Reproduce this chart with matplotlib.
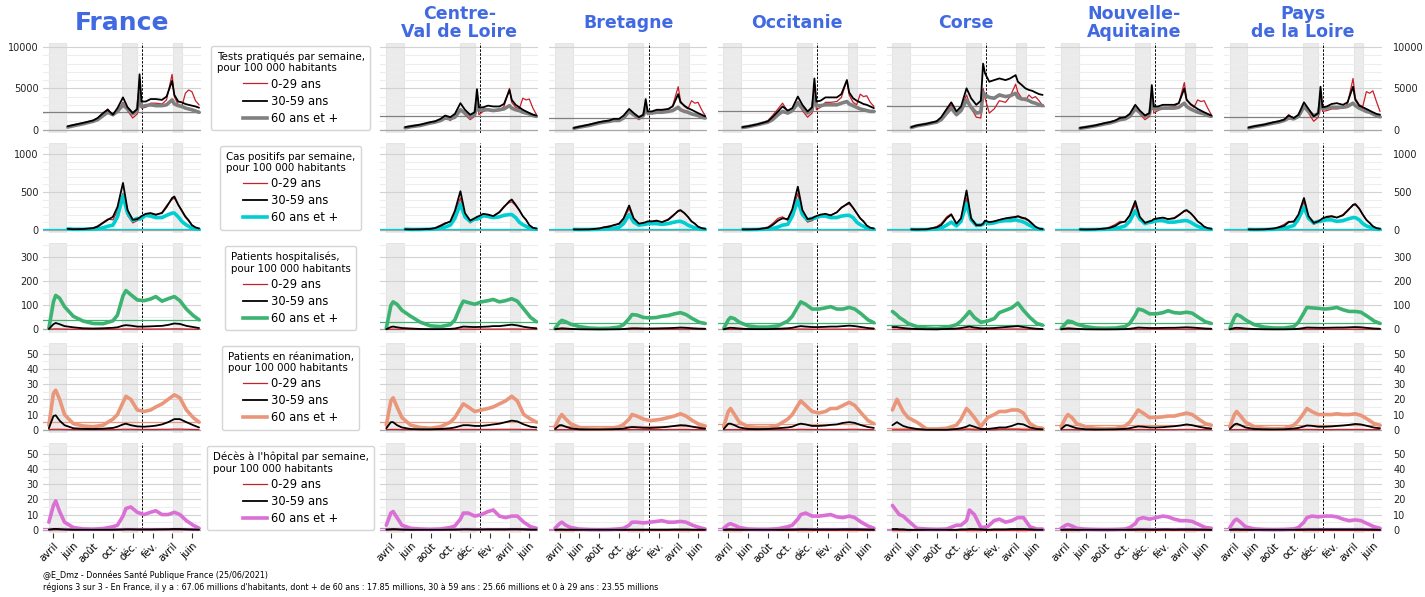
import matplotlib
matplotlib.use("Agg")
import matplotlib.pyplot as plt
import pandas as pd
from matplotlib.lines import Line2D
from matplotlib.ticker import MultipleLocator

# --- dates ---------------------------------------------------------------
dates_tests = pd.to_datetime([
    "2020-05-15", "2020-06-01", "2020-07-01", "2020-08-01", "2020-08-15",
    "2020-09-01", "2020-09-15", "2020-10-01", "2020-10-15", "2020-11-01",
    "2020-11-15", "2020-12-01", "2020-12-15", "2020-12-22", "2020-12-28",
    "2021-01-10", "2021-01-25", "2021-02-10", "2021-03-01", "2021-03-15",
    "2021-04-01", "2021-04-08", "2021-04-20", "2021-05-01", "2021-05-12",
    "2021-05-22", "2021-06-01", "2021-06-12", "2021-06-23"])
dates_hosp = pd.to_datetime([
    "2020-03-18", "2020-04-01", "2020-04-08", "2020-04-20", "2020-05-05",
    "2020-06-01", "2020-07-01", "2020-08-01", "2020-09-01", "2020-10-01",
    "2020-10-15", "2020-11-01", "2020-11-10", "2020-11-25", "2020-12-15",
    "2021-01-05", "2021-01-25", "2021-02-10", "2021-03-01", "2021-03-20",
    "2021-04-08", "2021-04-25", "2021-05-15", "2021-06-05", "2021-06-23"])

confinements = [("2020-03-17", "2020-05-11"), ("2020-10-30", "2020-12-15"),
                ("2021-04-03", "2021-05-03")]
date_vaccin = "2020-12-31"
mois_ticks = ["2020-04-01", "2020-06-01", "2020-08-01", "2020-10-01",
              "2020-12-01", "2021-02-01", "2021-04-01", "2021-06-01"]
mois_labels = ["avril", "juin", "août", "oct.", "déc.", "fév.", "avril", "juin"]

# --- France --------------------------------------------------------------
fra_tests_0_29 = [300, 450, 700, 1100, 1400, 2000, 2500, 1700, 2300, 3300,
                  2300, 1400, 1900, 6200, 2600, 2700, 3200, 3200, 3100, 3600,
                  6700, 4000, 3000, 2800, 4400, 4800, 4600, 3500, 3000]
fra_tests_30_59 = [400, 550, 800, 1100, 1400, 2000, 2400, 1800, 2600, 3900,
                   2700, 2000, 2500, 6700, 3400, 3400, 3700, 3700, 3600, 4000,
                   5900, 4200, 3400, 3300, 3100, 3000, 2900, 2800, 2650]
fra_tests_60 = [300, 450, 700, 1000, 1200, 1700, 2100, 1800, 2200, 3000,
                2500, 1900, 2300, 4400, 2800, 2900, 3000, 2900, 2900, 3000,
                3600, 3100, 2900, 2800, 2600, 2500, 2400, 2250, 2100]
fra_cas_0_29 = [8, 5, 8, 25, 50, 100, 140, 130, 250, 480,
                190, 90, 120, 140, 150, 190, 210, 190, 230, 320,
                400, 420, 330, 260, 180, 130, 60, 30, 15]
fra_cas_30_59 = [10, 6, 8, 20, 40, 90, 130, 170, 300, 620,
                 260, 130, 140, 160, 180, 210, 220, 200, 220, 300,
                 420, 440, 330, 250, 170, 120, 60, 30, 15]
fra_cas_60 = [10, 5, 5, 8, 12, 25, 45, 60, 170, 450,
              220, 120, 150, 140, 150, 190, 180, 160, 160, 190,
              220, 220, 170, 110, 70, 45, 20, 10, 6]
fra_hosp_0_29 = [0.5, 2, 2.5, 2, 1.5, 1, 0.8, 0.8, 0.8, 1,
                 1.2, 2, 2.3, 2.1, 1.7, 1.6, 1.7, 1.9, 2, 2.2,
                 2.6, 2.4, 1.8, 1.3, 1]
fra_hosp_30_59 = [2, 22, 27, 22, 14, 9, 5, 4, 5, 7,
                  9, 16, 18, 16, 12, 12, 13, 14, 15, 19,
                  25, 23, 15, 10, 6]
fra_hosp_60 = [5, 115, 142, 130, 95, 55, 35, 25, 24, 36,
               60, 140, 162, 145, 123, 120, 127, 137, 118, 128,
               137, 120, 85, 58, 40]
fra_rea_0_29 = [0.1, 0.3, 0.3, 0.3, 0.2, 0.1, 0.1, 0.1, 0.1, 0.1,
                0.2, 0.3, 0.3, 0.3, 0.2, 0.2, 0.2, 0.2, 0.3, 0.3,
                0.4, 0.4, 0.3, 0.2, 0.1]
fra_rea_30_59 = [1, 9, 9.5, 6, 3, 1, 0.6, 0.5, 0.7, 1.2,
                 2, 3.5, 4, 3, 2.2, 2, 2.3, 2.7, 3.5, 5,
                 7, 7, 5, 3, 1.5]
fra_rea_60 = [3, 24, 26, 20, 10, 4, 2.5, 2, 3, 7,
              10, 18, 22, 20, 13, 12, 13, 15, 17, 20,
              23, 21, 13, 8, 5]
fra_dc_0_29 = [0, 0.02, 0.03, 0.02, 0.01, 0, 0, 0, 0, 0,
               0, 0.01, 0.02, 0.02, 0.01, 0.01, 0.01, 0.01, 0.01, 0.01,
               0.02, 0.02, 0.01, 0.01, 0]
fra_dc_30_59 = [0.1, 0.5, 0.6, 0.4, 0.2, 0.05, 0.03, 0.02, 0.03, 0.05,
                0.1, 0.2, 0.3, 0.3, 0.2, 0.2, 0.2, 0.25, 0.3, 0.35,
                0.5, 0.45, 0.3, 0.15, 0.08]
fra_dc_60 = [5, 16, 19, 12, 5, 1.5, 0.6, 0.4, 0.8, 2,
             3, 9, 14, 15, 11.5, 10, 11.5, 12.5, 10, 10,
             11.5, 10, 6, 3, 1]

# --- Centre-Val de Loire -------------------------------------------------
cvl_tests_0_29 = [200, 350, 500, 800, 900, 1100, 1500, 1100, 1600, 2500,
                  1800, 1200, 1600, 4000, 1800, 2200, 2400, 2300, 2300, 2800,
                  5000, 3300, 2700, 2500, 3800, 3600, 3700, 2600, 1800]
cvl_tests_30_59 = [300, 400, 600, 900, 1000, 1300, 1700, 1500, 1900, 3200,
                   2400, 1800, 2100, 4900, 2700, 2700, 2900, 2800, 2800, 3100,
                   4800, 3600, 3000, 2700, 2400, 2200, 2000, 1800, 1700]
cvl_tests_60 = [200, 350, 500, 800, 900, 1100, 1400, 1300, 1500, 2400,
                2000, 1500, 1800, 3300, 2300, 2400, 2400, 2300, 2400, 2500,
                2900, 2600, 2400, 2300, 2100, 2000, 1900, 1700, 1600]
cvl_cas_0_29 = [5, 3, 5, 12, 25, 60, 90, 100, 220, 420,
                170, 90, 130, 150, 160, 200, 195, 180, 240, 310,
                360, 370, 320, 260, 180, 130, 60, 25, 15]
cvl_cas_30_59 = [5, 3, 5, 10, 20, 50, 80, 110, 250, 510,
                 220, 120, 150, 170, 180, 210, 200, 180, 230, 300,
                 380, 400, 330, 260, 180, 130, 60, 25, 15]
cvl_cas_60 = [5, 3, 3, 6, 10, 20, 35, 60, 150, 340,
              170, 110, 140, 140, 150, 185, 175, 160, 170, 190,
              200, 200, 160, 100, 65, 45, 20, 8, 6]
cvl_hosp_0_29 = [0.3, 1, 1.2, 1, 0.8, 0.5, 0.4, 0.3, 0.4, 0.5,
                 0.7, 1.2, 1.5, 1.4, 1.2, 1.3, 1.4, 1.5, 1.6, 1.8,
                 2, 1.8, 1.3, 0.9, 0.6]
cvl_hosp_30_59 = [1, 10, 12, 9, 6, 4, 2, 1.5, 1.5, 2.5,
                  4, 9, 12, 11, 10, 11, 12, 14, 14, 17,
                  20, 17, 11, 7, 5]
cvl_hosp_60 = [5, 100, 115, 105, 80, 55, 30, 15, 12, 20,
               40, 95, 118, 112, 105, 115, 120, 125, 115, 120,
               128, 118, 85, 50, 32]
cvl_rea_0_29 = [0.1, 0.2, 0.2, 0.2, 0.1, 0.1, 0.1, 0.1, 0.1, 0.1,
                0.1, 0.2, 0.2, 0.2, 0.2, 0.2, 0.2, 0.2, 0.3, 0.3,
                0.3, 0.3, 0.2, 0.2, 0.1]
cvl_rea_30_59 = [1, 5, 5, 3, 1.5, 0.5, 0.3, 0.3, 0.5, 1,
                 1.5, 2.5, 3, 3, 2.5, 2.5, 3, 3.5, 4, 5,
                 6, 5.5, 3.5, 2, 1.5]
cvl_rea_60 = [3, 19, 21, 15, 8, 3, 1.5, 1, 2, 5,
              8, 14, 17, 15, 12, 13, 14, 15, 17, 19,
              22, 19, 10, 7, 5]
cvl_dc_0_29 = [0, 0, 0, 0, 0, 0, 0, 0, 0, 0,
               0, 0, 0.1, 0, 0, 0, 0, 0, 0, 0,
               0, 0, 0, 0, 0]
cvl_dc_30_59 = [0.1, 0.3, 0.4, 0.3, 0.1, 0, 0, 0, 0, 0.1,
                0.1, 0.2, 0.3, 0.3, 0.2, 0.2, 0.3, 0.3, 0.3, 0.3,
                0.4, 0.4, 0.3, 0.1, 0.1]
cvl_dc_60 = [3, 11, 12, 8, 3, 1, 0.5, 0.3, 0.5, 1.5,
             2.5, 7, 11, 11, 9, 10, 12, 13, 9, 8,
             9, 9, 5, 2, 1]

# --- Bretagne ------------------------------------------------------------
bre_tests_0_29 = [150, 300, 550, 850, 950, 1000, 1200, 1100, 1500, 2300,
                  1700, 1200, 1600, 3200, 1800, 2000, 2300, 2300, 2400, 2900,
                  5200, 3500, 2800, 2500, 3500, 3200, 3300, 2400, 1700]
bre_tests_30_59 = [200, 350, 600, 900, 1000, 1100, 1300, 1300, 1700, 2500,
                   2000, 1500, 1800, 3700, 2200, 2200, 2400, 2400, 2500, 2800,
                   4300, 3300, 2900, 2600, 2400, 2200, 2000, 1800, 1600]
bre_tests_60 = [150, 300, 500, 800, 900, 1000, 1100, 1100, 1400, 2200,
                1800, 1400, 1700, 2700, 2000, 2000, 2100, 2100, 2200, 2300,
                2700, 2400, 2200, 2100, 1900, 1800, 1700, 1500, 1400]
bre_cas_0_29 = [3, 2, 5, 20, 35, 50, 60, 70, 130, 280,
                120, 60, 80, 90, 100, 110, 110, 100, 140, 190,
                240, 250, 220, 170, 110, 80, 40, 20, 12]
bre_cas_30_59 = [3, 2, 4, 15, 30, 40, 60, 80, 150, 320,
                 150, 80, 90, 100, 110, 110, 120, 100, 130, 180,
                 250, 260, 220, 170, 110, 80, 40, 20, 12]
bre_cas_60 = [3, 2, 2, 5, 8, 12, 20, 30, 80, 200,
              100, 60, 70, 70, 80, 80, 80, 70, 80, 95,
              110, 110, 90, 60, 40, 25, 12, 6, 4]
bre_hosp_0_29 = [0.2, 0.5, 0.6, 0.5, 0.4, 0.3, 0.2, 0.2, 0.3, 0.4,
                 0.5, 0.8, 1, 1, 0.9, 0.9, 1, 1, 1.1, 1.2,
                 1.4, 1.3, 1, 0.7, 0.5]
bre_hosp_30_59 = [1, 4, 5, 4, 2.5, 1, 0.6, 0.5, 0.6, 1,
                  2, 4, 5, 5, 4, 4, 4.5, 5, 5.5, 6.5,
                  8, 7, 5, 3.5, 3]
bre_hosp_60 = [4, 30, 38, 32, 22, 12, 6, 4, 5, 10,
               20, 45, 62, 60, 50, 48, 50, 55, 58, 65,
               70, 62, 45, 30, 25]
bre_rea_0_29 = [0, 0.1, 0.1, 0.1, 0.1, 0, 0, 0, 0, 0.1,
                0.1, 0.1, 0.2, 0.2, 0.1, 0.1, 0.1, 0.1, 0.2, 0.2,
                0.2, 0.2, 0.1, 0.1, 0.1]
bre_rea_30_59 = [0.5, 3, 3, 2, 1, 0.3, 0.2, 0.2, 0.3, 0.5,
                 0.8, 1.5, 1.8, 1.6, 1.3, 1.2, 1.4, 1.6, 2, 2.5,
                 3, 2.8, 2, 1.2, 0.8]
bre_rea_60 = [2, 8, 10, 7, 4, 1.5, 0.5, 0.4, 0.6, 2,
              3.5, 7, 10, 9, 7, 6, 6.5, 7, 8, 9,
              10.5, 9, 6, 3.5, 2.5]
bre_dc_0_29 = [0, 0, 0, 0, 0, 0, 0, 0, 0, 0,
               0, 0, 0, 0, 0, 0, 0, 0, 0, 0,
               0, 0, 0, 0, 0]
bre_dc_30_59 = [0, 0.2, 0.2, 0.1, 0.1, 0, 0, 0, 0, 0,
                0, 0.1, 0.1, 0.1, 0.1, 0.1, 0.1, 0.1, 0.1, 0.2,
                0.2, 0.2, 0.1, 0.1, 0]
bre_dc_60 = [1, 4, 5, 3, 1.5, 0.5, 0.2, 0.1, 0.2, 0.6,
             1, 3, 5, 5, 4.5, 5, 5.5, 6, 5, 5,
             5.5, 5, 3, 1.5, 0.5]

# --- Occitanie -----------------------------------------------------------
occ_tests_0_29 = [250, 350, 650, 1100, 1700, 2500, 3200, 2200, 2400, 3400,
                  2300, 1500, 2000, 5500, 2400, 2700, 3300, 3300, 3400, 3900,
                  6000, 4200, 3300, 3000, 4300, 4000, 4100, 3300, 2800]
occ_tests_30_59 = [300, 400, 650, 1000, 1500, 2200, 2800, 2300, 2600, 4000,
                   3000, 2200, 2700, 6200, 3400, 3500, 3900, 3900, 3900, 4300,
                   6000, 4500, 3800, 3500, 3300, 3100, 3000, 2800, 2600]
occ_tests_60 = [250, 350, 600, 900, 1200, 1800, 2200, 2000, 2300, 3200,
                2600, 2000, 2400, 4000, 2900, 2900, 3000, 3000, 3000, 3200,
                3400, 3100, 2900, 2700, 2500, 2400, 2300, 2200, 2200]
occ_cas_0_29 = [3, 3, 8, 35, 80, 150, 170, 120, 240, 480,
                190, 100, 120, 140, 160, 190, 200, 190, 230, 300,
                330, 340, 290, 220, 150, 110, 55, 25, 15]
occ_cas_30_59 = [3, 3, 6, 25, 60, 120, 150, 140, 270, 570,
                 260, 140, 150, 170, 180, 200, 210, 190, 230, 290,
                 340, 360, 290, 220, 150, 110, 55, 25, 15]
occ_cas_60 = [3, 2, 3, 8, 15, 35, 60, 70, 180, 390,
              200, 130, 150, 150, 160, 180, 180, 160, 160, 180,
              190, 190, 160, 100, 65, 45, 20, 9, 6]
occ_hosp_0_29 = [0.2, 0.6, 0.7, 0.6, 0.4, 0.3, 0.3, 0.4, 0.6, 0.8,
                 1, 1.5, 1.7, 1.5, 1.2, 1.2, 1.3, 1.4, 1.4, 1.5,
                 1.7, 1.6, 1.2, 0.8, 0.6]
occ_hosp_30_59 = [1, 6, 7, 6, 4, 2, 1.5, 1.5, 3, 5,
                  7, 12, 14, 12, 10, 10, 11, 12, 12, 14,
                  16, 14, 10, 6, 4]
occ_hosp_60 = [4, 40, 50, 45, 30, 15, 10, 10, 15, 35,
               55, 95, 115, 105, 85, 85, 90, 95, 85, 85,
               92, 85, 65, 40, 28]
occ_rea_0_29 = [0, 0.1, 0.1, 0.1, 0.1, 0, 0, 0.1, 0.1, 0.1,
                0.2, 0.2, 0.3, 0.2, 0.2, 0.2, 0.2, 0.2, 0.2, 0.2,
                0.3, 0.3, 0.2, 0.1, 0.1]
occ_rea_30_59 = [0.5, 4, 4, 3, 1.5, 0.5, 0.4, 0.5, 1, 1.5,
                 2, 3.5, 4, 3.5, 2.5, 2.5, 2.8, 3.2, 3.5, 4.5,
                 5, 4.5, 3, 1.8, 1.2]
occ_rea_60 = [2, 12, 14, 10, 5, 2, 1.5, 1.5, 3, 7,
              10, 16, 19, 16, 12, 11, 12, 14, 14, 16,
              18, 16, 11, 6, 4]
occ_dc_0_29 = [0, 0, 0, 0, 0, 0, 0, 0, 0, 0,
               0, 0, 0, 0, 0, 0, 0, 0, 0, 0,
               0, 0, 0, 0, 0]
occ_dc_30_59 = [0, 0.2, 0.2, 0.1, 0.1, 0, 0, 0, 0, 0.1,
                0.1, 0.2, 0.3, 0.3, 0.2, 0.2, 0.2, 0.2, 0.2, 0.3,
                0.3, 0.3, 0.2, 0.1, 0.1]
occ_dc_60 = [1, 3.5, 4, 3, 1.5, 0.5, 0.3, 0.3, 0.7, 2,
             3, 7, 10, 11, 9, 9, 9.5, 10, 8.5, 8,
             9, 8, 5, 2.5, 1]

# --- Corse ---------------------------------------------------------------
cor_tests_0_29 = [250, 450, 700, 1000, 1400, 2300, 3000, 1800, 2500, 4200,
                  2600, 1500, 1400, 5000, 3800, 2000, 2500, 3500, 3300, 4000,
                  5500, 4500, 3800, 3500, 4200, 3800, 4000, 3500, 2900]
cor_tests_30_59 = [300, 500, 700, 1000, 1500, 2500, 3300, 2200, 2800, 5000,
                   3800, 3000, 3500, 8000, 6800, 5800, 6000, 6200, 6000, 6200,
                   6600, 5800, 5400, 5000, 4800, 4700, 4500, 4300, 4200]
cor_tests_60 = [250, 450, 650, 900, 1200, 2000, 2600, 1800, 2300, 3600,
                2700, 2000, 2100, 4500, 4200, 3900, 3800, 4200, 4000, 4100,
                4400, 3900, 3700, 3700, 3500, 3300, 3200, 3000, 2900]
cor_cas_0_29 = [3, 2, 6, 40, 80, 170, 210, 70, 120, 420,
                120, 40, 50, 70, 100, 90, 110, 130, 150, 150,
                160, 170, 150, 140, 110, 70, 35, 12, 6]
cor_cas_30_59 = [3, 2, 5, 30, 60, 150, 200, 80, 150, 520,
                 150, 60, 60, 80, 120, 100, 110, 130, 150, 160,
                 170, 180, 160, 150, 120, 80, 40, 15, 8]
cor_cas_60 = [3, 1, 2, 10, 20, 60, 100, 50, 110, 350,
              130, 60, 60, 70, 100, 80, 90, 110, 120, 120,
              130, 120, 110, 90, 60, 40, 20, 6, 3]
cor_hosp_0_29 = [1, 1, 1, 0.5, 0.5, 0, 0, 0, 0.5, 0.5,
                 1, 1, 1.5, 1, 0.5, 0.5, 1, 1.5, 1.5, 2,
                 2, 1.5, 1, 0.5, 0.5]
cor_hosp_30_59 = [10, 10, 8, 6, 4, 2, 1, 1, 2, 4,
                  6, 10, 12, 8, 5, 5, 6, 8, 10, 12,
                  14, 10, 6, 3, 2]
cor_hosp_60 = [75, 60, 50, 40, 25, 12, 6, 4, 8, 20,
               35, 60, 75, 50, 30, 35, 45, 70, 80, 90,
               110, 80, 50, 25, 18]
cor_rea_0_29 = [0, 0, 0, 0, 0, 0, 0, 0, 0, 0,
                0, 0.3, 0.3, 0, 0, 0, 0, 0.3, 0.3, 0.3,
                0.3, 0, 0, 0, 0]
cor_rea_30_59 = [3, 5, 4, 2.5, 1.5, 0.5, 0, 0, 0, 0.5,
                 1, 2, 3, 2, 0.5, 0.5, 1, 1.5, 1.5, 2.5,
                 4, 3.5, 1.5, 0.5, 0.3]
cor_rea_60 = [13, 20, 17, 12, 8, 5, 0.5, 0.5, 1, 3,
              7, 14, 12, 8, 2, 8, 10, 12, 12, 13,
              13, 11, 4, 1.5, 1]
cor_dc_0_29 = [0, 0, 0, 0, 0, 0, 0, 0, 0, 0,
               0, 0, 0, 0, 0, 0, 0, 0, 0, 0,
               0, 0, 0, 0, 0]
cor_dc_30_59 = [0.5, 0.5, 0.3, 0.3, 0, 0, 0, 0, 0, 0,
                0.3, 0.3, 0.5, 0.5, 0.3, 0, 0.3, 0.3, 0.3, 0.5,
                0.5, 0.5, 0.3, 0, 0]
cor_dc_60 = [16, 12, 10, 9, 6, 1, 0.5, 0.3, 0.5, 3,
             3, 6, 13, 10, 1.5, 2, 6, 7, 5, 6,
             8, 8, 2, 0.5, 0.5]

# --- Nouvelle-Aquitaine --------------------------------------------------
naq_tests_0_29 = [150, 250, 450, 800, 900, 1100, 1500, 1300, 1800, 2700,
                  1900, 1200, 1600, 4600, 2000, 2300, 2700, 2700, 2800, 3200,
                  5700, 3700, 3000, 2700, 3600, 3400, 3500, 2600, 1800]
naq_tests_30_59 = [200, 300, 500, 800, 900, 1100, 1400, 1500, 1900, 3000,
                   2300, 1700, 2000, 5400, 2800, 2800, 3000, 3000, 3000, 3200,
                   5000, 3600, 3100, 2800, 2500, 2300, 2100, 1900, 1700]
naq_tests_60 = [150, 250, 450, 700, 800, 1000, 1200, 1300, 1600, 2500,
                2100, 1600, 1900, 3500, 2500, 2500, 2600, 2600, 2600, 2700,
                3200, 2800, 2500, 2300, 2100, 2000, 1900, 1700, 1600]
naq_cas_0_29 = [3, 2, 5, 20, 35, 70, 110, 100, 180, 330,
                140, 70, 100, 110, 130, 150, 160, 140, 160, 200,
                240, 250, 220, 170, 110, 80, 40, 20, 12]
naq_cas_30_59 = [3, 2, 4, 15, 25, 50, 90, 110, 190, 380,
                 170, 90, 110, 120, 140, 150, 160, 140, 150, 190,
                 250, 260, 220, 170, 110, 80, 40, 20, 12]
naq_cas_60 = [3, 1, 2, 5, 8, 15, 30, 50, 110, 250,
              140, 80, 100, 100, 110, 120, 120, 100, 100, 110,
              120, 120, 100, 70, 45, 30, 15, 6, 4]
naq_hosp_0_29 = [0.2, 0.5, 0.6, 0.5, 0.4, 0.3, 0.2, 0.2, 0.3, 0.4,
                 0.6, 0.9, 1.1, 1, 0.9, 0.9, 1, 1, 1, 1.1,
                 1.2, 1.1, 0.9, 0.6, 0.5]
naq_hosp_30_59 = [1, 4, 5, 4, 2.5, 1, 0.6, 0.5, 0.7, 1.5,
                  3, 6, 8, 7, 6, 6, 6.5, 7, 7, 8,
                  9, 8, 6, 4, 3]
naq_hosp_60 = [4, 25, 35, 32, 22, 12, 6, 5, 6, 12,
               25, 60, 85, 80, 65, 65, 70, 78, 70, 68,
               72, 68, 50, 32, 25]
naq_rea_0_29 = [0, 0.1, 0.1, 0.1, 0, 0, 0, 0, 0, 0.1,
                0.1, 0.1, 0.2, 0.2, 0.1, 0.1, 0.1, 0.1, 0.1, 0.2,
                0.2, 0.2, 0.1, 0.1, 0.1]
naq_rea_30_59 = [0.5, 3, 3, 2, 1, 0.3, 0.2, 0.2, 0.3, 0.6,
                 1, 1.8, 2.2, 2, 1.5, 1.5, 1.7, 2, 2.3, 2.8,
                 3.5, 3, 2, 1.2, 0.8]
naq_rea_60 = [2, 8, 10, 8, 4, 2, 1, 0.6, 0.8, 2.5,
              5, 10, 13, 11, 8, 8, 8.5, 9, 9, 10,
              11, 10, 7, 4, 3]
naq_dc_0_29 = [0, 0, 0, 0, 0, 0, 0, 0, 0, 0,
               0, 0, 0, 0, 0, 0, 0, 0, 0, 0,
               0, 0, 0, 0, 0]
naq_dc_30_59 = [0, 0.1, 0.1, 0.1, 0, 0, 0, 0, 0, 0,
                0.1, 0.1, 0.2, 0.2, 0.1, 0.1, 0.2, 0.2, 0.1, 0.2,
                0.2, 0.2, 0.1, 0.1, 0]
naq_dc_60 = [1, 3, 3.5, 2.5, 1, 0.4, 0.2, 0.1, 0.2, 0.5,
             1.5, 4, 7, 8, 7, 8, 9, 8.5, 7, 6,
             6, 5.5, 3.5, 1.5, 1]

# --- Pays de la Loire ----------------------------------------------------
pdl_tests_0_29 = [200, 350, 550, 900, 1000, 1200, 1800, 1300, 1500, 2800,
                  2000, 1000, 1500, 4500, 2200, 2300, 2500, 2500, 2600, 3100,
                  6200, 3800, 3000, 2800, 4600, 4400, 4700, 3400, 2200]
pdl_tests_30_59 = [250, 400, 600, 900, 1000, 1200, 1700, 1400, 1800, 3300,
                   2500, 1600, 2000, 5200, 2700, 2800, 3100, 3200, 3000, 3300,
                   5200, 3600, 2900, 2700, 2500, 2300, 2100, 1900, 1800]
pdl_tests_60 = [200, 350, 550, 800, 900, 1100, 1400, 1300, 1600, 2800,
                2200, 1700, 1900, 3300, 2600, 2600, 2700, 2700, 2700, 2800,
                3200, 2900, 2600, 2400, 2200, 2100, 1900, 1700, 1550]
pdl_cas_0_29 = [3, 2, 5, 20, 35, 70, 110, 100, 180, 370,
                150, 70, 100, 120, 140, 160, 170, 160, 200, 260,
                320, 330, 280, 200, 130, 90, 45, 20, 12]
pdl_cas_30_59 = [3, 2, 4, 15, 30, 50, 100, 110, 200, 420,
                 180, 90, 110, 130, 150, 170, 180, 160, 190, 250,
                 330, 340, 280, 200, 130, 90, 45, 20, 12]
pdl_cas_60 = [3, 1, 2, 5, 10, 18, 35, 55, 140, 300,
              150, 90, 110, 110, 120, 130, 130, 110, 120, 140,
              160, 160, 130, 80, 50, 35, 15, 6, 4]
pdl_hosp_0_29 = [0.2, 0.7, 0.8, 0.7, 0.5, 0.3, 0.2, 0.2, 0.3, 0.4,
                 0.6, 1, 1.2, 1.2, 1.1, 1.1, 1.2, 1.2, 1.2, 1.3,
                 1.4, 1.3, 1, 0.7, 0.5]
pdl_hosp_30_59 = [1, 6, 7, 6, 4, 2, 1, 0.6, 0.7, 1.5,
                  3, 6, 8, 7.5, 7, 7, 7.5, 8, 8, 9,
                  10, 9, 6.5, 4, 3]
pdl_hosp_60 = [4, 50, 62, 55, 40, 20, 10, 6, 6, 12,
               30, 70, 92, 90, 88, 85, 88, 92, 82, 75,
               75, 72, 55, 35, 25]
pdl_rea_0_29 = [0, 0.1, 0.1, 0.1, 0.1, 0, 0, 0, 0, 0.1,
                0.1, 0.2, 0.2, 0.2, 0.1, 0.1, 0.1, 0.2, 0.2, 0.2,
                0.2, 0.2, 0.1, 0.1, 0.1]
pdl_rea_30_59 = [0.5, 3.5, 4, 3, 1.5, 0.5, 0.3, 0.2, 0.3, 0.8,
                 1.2, 2.2, 2.8, 2.6, 2, 2, 2.2, 2.5, 2.8, 3.2,
                 3.8, 3.5, 2.5, 1.4, 1]
pdl_rea_60 = [2, 10, 12, 9, 5, 2, 1, 0.6, 0.8, 3,
              6, 11, 14, 12, 10, 10, 10, 10.5, 10, 10,
              10.5, 9.5, 7, 4, 3]
pdl_dc_0_29 = [0, 0, 0, 0, 0, 0, 0, 0, 0, 0,
               0, 0, 0, 0, 0, 0, 0, 0, 0, 0,
               0, 0, 0, 0, 0]
pdl_dc_30_59 = [0, 0.2, 0.2, 0.1, 0.1, 0, 0, 0, 0, 0,
                0.1, 0.1, 0.2, 0.2, 0.2, 0.2, 0.2, 0.2, 0.2, 0.2,
                0.2, 0.2, 0.1, 0.1, 0]
pdl_dc_60 = [1.5, 6, 7, 5, 2, 0.6, 0.2, 0.1, 0.2, 0.6,
             1.5, 5, 8, 9, 8.5, 9, 9, 8.5, 7, 6,
             6.5, 6, 4, 2, 1]

# --- layout / style ------------------------------------------------------
colonnes = ["fra", None, "cvl", "bre", "occ", "cor", "naq", "pdl"]
titres = ["France", "", "Centre-\nVal de Loire", "Bretagne", "Occitanie",
          "Corse", "Nouvelle-\nAquitaine", "Pays\nde la Loire"]
ages = ["0_29", "30_59", "60"]
age_labels = ["0-29 ans", "30-59 ans", "60 ans et +"]

# metric, 60+ colour, ylim, major, minor, legend title
lignes = [
    ("tests", "grey", (-420, 10500), 5000, 1000,
     "Tests pratiqués par semaine,\npour 100 000 habitants"),
    ("cas", "darkturquoise", (-45, 1150), 500, 100,
     "Cas positifs par semaine,\npour 100 000 habitants"),
    ("hosp", "mediumseagreen", (-15, 360), 100, 50,
     "Patients hospitalisés,\npour 100 000 habitants"),
    ("rea", "darksalmon", (-2.2, 57), 10, 5,
     "Patients en réanimation,\npour 100 000 habitants"),
    ("dc", "orchid", (-2.2, 57), 10, 5,
     "Décès à l'hôpital par semaine,\npour 100 000 habitants"),
]
ROUGE = "#c8202a"
BLEU_TITRE = "royalblue"


def serie(code, metric, age):
    return globals()[f"{code}_{metric}_{age}"]


fig, axes = plt.subplots(5, 8, figsize=(14.25, 5.97), dpi=100,
                         gridspec_kw=dict(left=0.0302, right=0.9698,
                                          top=0.928, bottom=0.107,
                                          wspace=0.068, hspace=0.111))

xlim = pd.to_datetime(["2020-02-29", "2021-06-29"])

for r, (metric, col60, ylim, major, minor, leg_title) in enumerate(lignes):
    widths = [0.9, 1.3, 2.6]
    colors = [ROUGE, "black", col60]
    for c, code in enumerate(colonnes):
        ax = axes[r, c]
        if code is None:
            ax.axis("off")
            handles = [Line2D([], [], color=colors[i], lw=widths[i])
                       for i in range(3)]
            ax.legend(handles, age_labels, title=leg_title, loc="center",
                      fontsize=8.3, title_fontsize=7.4,
                      handlelength=2.1, handletextpad=0.3,
                      labelspacing=0.35, borderpad=0.5,
                      framealpha=1, edgecolor="#d5d5d5")
            continue

        dates = dates_tests if metric in ("tests", "cas") else dates_hosp
        for a0, d0 in confinements:
            ax.axvspan(pd.Timestamp(a0), pd.Timestamp(d0), color="lightgray",
                       alpha=0.45, lw=0.8, zorder=0)
        ax.axvline(pd.Timestamp(date_vaccin), color="black", lw=0.7,
                   ls=(0, (2.5, 1.5)), zorder=1)
        ax.axhline(0, color="#a8a8a8", lw=0.9, zorder=1)

        vals = [serie(code, metric, a) for a in ages]
        ax.axhline(vals[2][-1], color=col60, lw=0.9, zorder=1.5)
        for i in range(3):
            ax.plot(dates, vals[i], color=colors[i], lw=widths[i],
                    zorder=2 + i if i < 2 else 2.5, solid_capstyle="round")

        ax.set_xlim(xlim)
        ax.set_ylim(ylim)
        ax.yaxis.set_major_locator(MultipleLocator(major))
        ax.yaxis.set_minor_locator(MultipleLocator(minor))
        ax.grid(axis="y", which="major", color="#d2d2d2", lw=0.8, zorder=0)
        ax.grid(axis="y", which="minor", color="#ededed", lw=0.8, zorder=0)
        ax.set_axisbelow(True)
        for sp in ax.spines.values():
            sp.set_visible(False)
        ax.tick_params(axis="y", which="both", length=0, labelsize=7,
                       colors="#222222", pad=3)
        if c == 7:
            ax.yaxis.tick_right()
            ax.tick_params(axis="y", which="both", length=0, pad=8)
        elif c != 0:
            ax.tick_params(axis="y", labelleft=False)

        ax.set_xticks(pd.to_datetime(mois_ticks))
        if r == 4:
            ax.set_xticklabels(mois_labels, rotation=45, ha="right",
                               rotation_mode="anchor", fontsize=7.3)
            ax.tick_params(axis="x", length=3.5, width=0.8, color="#333333",
                           pad=2)
        else:
            ax.tick_params(axis="x", bottom=False, labelbottom=False)

# titles
for c, titre in enumerate(titres):
    if not titre:
        continue
    pos = axes[0, c].get_position()
    fig.text((pos.x0 + pos.x1) / 2, 1 - 23 / 597, titre, ha="center",
             va="center", color=BLEU_TITRE, fontweight="bold",
             fontsize=18 if c == 0 else 12.5, linespacing=1.05)

fig.text(0.0302, 1 - 570 / 597,
         "@E_Dmz - Données Santé Publique France (25/06/2021)\n"
         "régions 3 sur 3 - En France, il y a : 67.06 millions d'habitants, "
         "dont + de 60 ans : 17.85 millions, 30 à 59 ans : 25.66 millions "
         "et 0 à 29 ans : 23.55 millions",
         ha="left", va="top", fontsize=5.8, linespacing=1.45)

fig.savefig("out.png", dpi=100)
